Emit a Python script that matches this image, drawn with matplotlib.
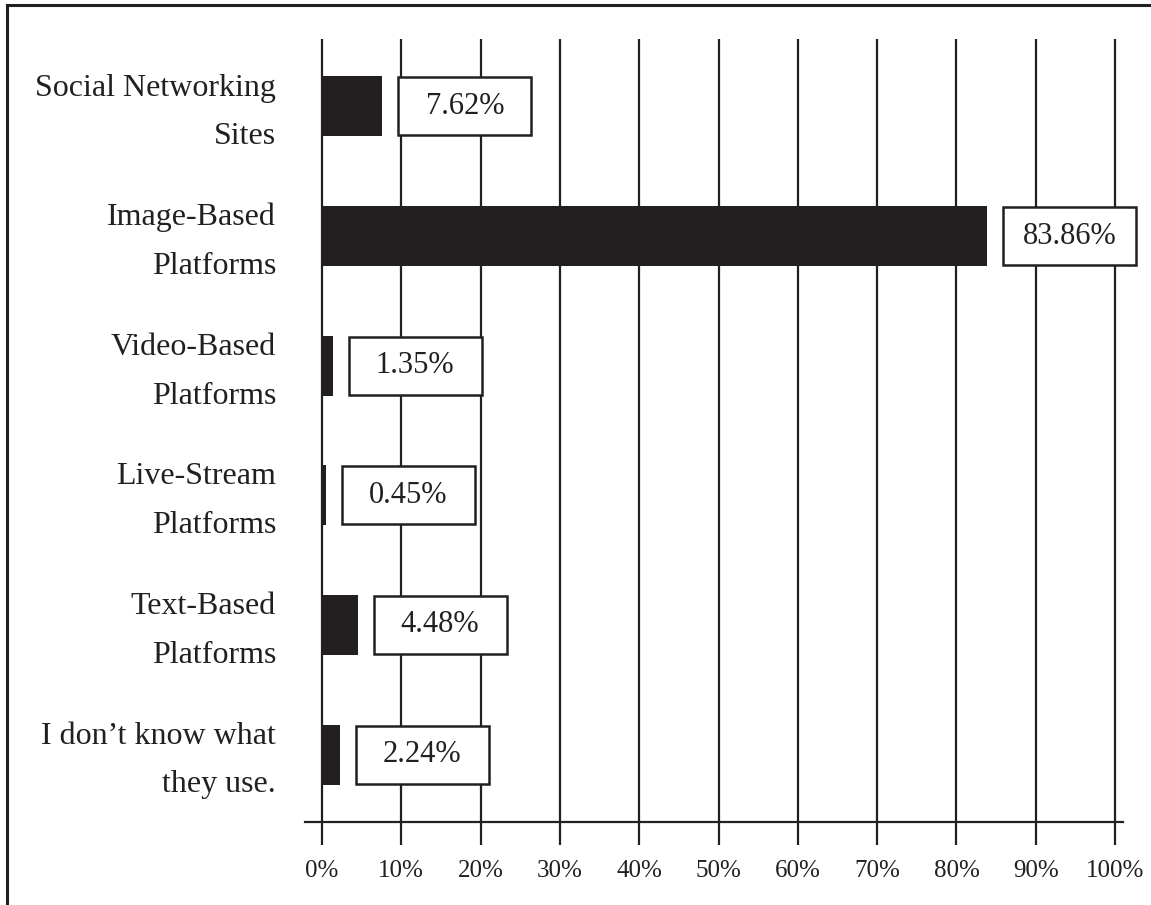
import matplotlib
matplotlib.use("Agg")
import matplotlib.pyplot as plt
import matplotlib.transforms as mtransforms
from matplotlib.patches import Rectangle
from matplotlib.lines import Line2D

categories = ["Social Networking\nSites", "Image-Based\nPlatforms", "Video-Based\nPlatforms",
              "Live-Stream\nPlatforms", "Text-Based\nPlatforms", "I don\u2019t know what\nthey use."]
values = [7.62, 83.86, 1.35, 0.45, 4.48, 2.24]
value_labels = ["7.62%", "83.86%", "1.35%", "0.45%", "4.48%", "2.24%"]
xticks = [0, 10, 20, 30, 40, 50, 60, 70, 80, 90, 100]
xtick_labels = ["0%", "10%", "20%", "30%", "40%", "50%", "60%", "70%", "80%", "90%", "100%"]

W, H, DPI = 1151, 905, 100
ink = "#231f20"
plt.rcParams['font.family'] = ['Liberation Serif', 'DejaVu Serif']

fig = plt.figure(figsize=(W / DPI, H / DPI), dpi=DPI)
fig.patch.set_facecolor("white")
ax_l, ax_r, ax_t, ax_b = 305, 1123, 39, 822
ax = fig.add_axes([ax_l / W, 1 - ax_b / H, (ax_r - ax_l) / W, (ax_b - ax_t) / H])

xmin, xmax = -2.14, 101.0
ax.set_xlim(xmin, xmax)
ax.set_ylim(5.52, -0.52)
px_per_x = (ax_r - ax_l) / (xmax - xmin)
px_per_y = (ax_b - ax_t) / (5.52 + 0.52)

ypos = list(range(len(categories)))
ax.barh(ypos, values, height=60 / px_per_y, color=ink, zorder=3)

ax.set_xticks(xticks)
ax.set_xticklabels(xtick_labels, fontsize=18, color=ink)
ax.grid(axis="x", color=ink, linewidth=1.6, zorder=1)
ax.tick_params(axis="x", direction="out", length=23 * 72 / DPI, width=1.6, color=ink, pad=11)
ax.set_yticks(ypos)
ax.set_yticklabels([])
ax.tick_params(axis="y", length=0)

label_tr = ax.get_yaxis_transform() + mtransforms.ScaledTranslation(-29 / DPI, -6 / DPI, fig.dpi_scale_trans)
for y, cat in zip(ypos, categories):
    ax.text(0, y, cat, transform=label_tr, ha="right", va="center", multialignment="right",
            fontsize=23, color=ink, linespacing=1.9)

for s in ["top", "right", "left"]:
    ax.spines[s].set_visible(False)
ax.spines["bottom"].set_color(ink)
ax.spines["bottom"].set_linewidth(1.6)

box_w = 133 / px_per_x
box_h = 58 / px_per_y
gap = 16 / px_per_x
for y, v, t in zip(ypos, values, value_labels):
    x0 = v + gap
    ax.add_patch(Rectangle((x0, y - box_h / 2), box_w, box_h, facecolor="white",
                           edgecolor=ink, linewidth=1.8, zorder=4, clip_on=False))
    ax.text(x0 + box_w / 2, y, t, ha="center", va="center", fontsize=22,
            color=ink, zorder=5, clip_on=False)

# figure frame (top and left)
fig.add_artist(Line2D([7 / W, 1.0], [1 - 5 / H, 1 - 5 / H], transform=fig.transFigure,
                      color=ink, linewidth=2.2))
fig.add_artist(Line2D([7 / W, 7 / W], [0, 1 - 5 / H], transform=fig.transFigure,
                      color=ink, linewidth=2.2))

fig.savefig("out.png", dpi=DPI, facecolor="white")
